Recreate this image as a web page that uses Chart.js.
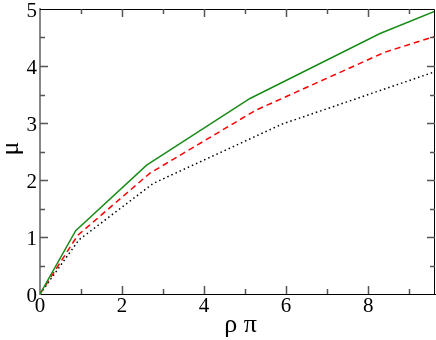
<!DOCTYPE html>
<html>
<head>
<meta charset="utf-8">
<script src="https://cdn.jsdelivr.net/npm/chart.js@4"></script>
<style>
  html, body { margin: 0; padding: 0; background: #fff; }
</style>
</head>
<body>
<canvas id="muChart" width="436" height="340"></canvas>
<script>
// values
let solidX  = [0, 0.87, 2.6, 5.12, 8.29, 9.63];
let solidY  = [0, 1.11, 2.26, 3.43, 4.57, 4.96];
let dashedX = [0, 0.92, 2.68, 5.25, 8.4, 9.63];
let dashedY = [0, 1.03, 2.12, 3.22, 4.24, 4.52];
let dottedX = [0, 0.95, 2.76, 5.9, 9.63];
let dottedY = [0, 0.95, 1.94, 2.98, 3.9];

let xTicks = [0, 2, 4, 6, 8];
let yTicks = [0, 1, 2, 3, 4, 5];
let xTitle = 'ρ π';
let yTitle = 'μ';

function toPoints(xs, ys) {
    return xs.map(function (x, i) { return {x: x, y: ys[i]}; });
}

// inward tick marks, top/right frame, tick labels and axis titles
let frameTicks = {
    id: 'frameTicks',
    afterDraw: function (chart) {
        let ctx = chart.ctx;
        let a = chart.chartArea;
        let xs = chart.scales.x;
        let ys = chart.scales.y;
        ctx.save();
        ctx.strokeStyle = '#000';
        ctx.lineWidth = 1;
        ctx.beginPath();
        ctx.moveTo(a.left, a.top + 0.5);
        ctx.lineTo(a.right - 0.5, a.top + 0.5);
        ctx.lineTo(a.right - 0.5, a.bottom);
        ctx.stroke();

        ctx.strokeStyle = '#555';
        ctx.lineWidth = 1.5;
        ctx.beginPath();
        for (let v = 1; v < xs.max; v++) {
            let px = Math.round(xs.getPixelForValue(v)) + 0.5;
            let len = (v % 2 === 0) ? 8 : 5;
            ctx.moveTo(px, a.bottom); ctx.lineTo(px, a.bottom - len);
            ctx.moveTo(px, a.top); ctx.lineTo(px, a.top + len);
        }
        for (let v = 0.5; v < ys.max; v += 0.5) {
            let py = Math.round(ys.getPixelForValue(v)) + 0.5;
            let len = (v % 1 === 0) ? 8 : 5;
            ctx.moveTo(a.left, py); ctx.lineTo(a.left + len, py);
            ctx.moveTo(a.right, py); ctx.lineTo(a.right - len, py);
        }
        ctx.stroke();

        ctx.fillStyle = '#000';
        ctx.font = '21px "Liberation Serif"';
        ctx.textBaseline = 'alphabetic';
        ctx.textAlign = 'right';
        yTicks.forEach(function (v) {
            ctx.fillText(String(v), a.left - 3, ys.getPixelForValue(v) + 8);
        });
        ctx.textAlign = 'center';
        xTicks.forEach(function (v) {
            ctx.fillText(String(v), xs.getPixelForValue(v), a.bottom + 18);
        });

        ctx.font = '26px "Liberation Serif"';
        ctx.fillText(xTitle, (a.left + a.right) / 2 + 3, a.bottom + 38);

        ctx.translate(11, (a.top + a.bottom) / 2 - 3);
        ctx.rotate(-Math.PI / 2);
        ctx.textBaseline = 'middle';
        ctx.fillText(yTitle, 0, 0);
        ctx.restore();
    }
};

let muCanvas = document.getElementById('muChart');
let muChart = new Chart(muCanvas, {
    type: 'line',
    data: {
        datasets: [{
            data: toPoints(solidX, solidY),
            borderColor: '#1a8c1a',
            borderWidth: 1.5,
            pointRadius: 0,
            fill: false
        }, {
            data: toPoints(dashedX, dashedY),
            borderColor: '#ff0000',
            borderWidth: 1.5,
            borderDash: [6, 4],
            pointRadius: 0,
            fill: false
        }, {
            data: toPoints(dottedX, dottedY),
            borderColor: '#000000',
            borderWidth: 1.5,
            borderDash: [1.5, 3],
            pointRadius: 0,
            fill: false
        }]
    },
    plugins: [frameTicks],
    options: {
        responsive: false,
        animation: false,
        layout: { padding: { top: 9, right: 1, left: 0, bottom: 0 } },
        plugins: {
            legend: { display: false },
            tooltip: { enabled: false }
        },
        scales: {
            x: {
                type: 'linear',
                min: 0,
                max: 9.63,
                afterFit: function (scale) { scale.height = 46; },
                grid: { display: false },
                border: { display: true, color: '#000', width: 1 },
                ticks: { display: false }
            },
            y: {
                type: 'linear',
                min: 0,
                max: 5,
                afterFit: function (scale) { scale.width = 40; },
                grid: { display: false },
                border: { display: true, color: '#888', width: 2 },
                ticks: { display: false }
            }
        }
    }
});
</script>
</body>
</html>
